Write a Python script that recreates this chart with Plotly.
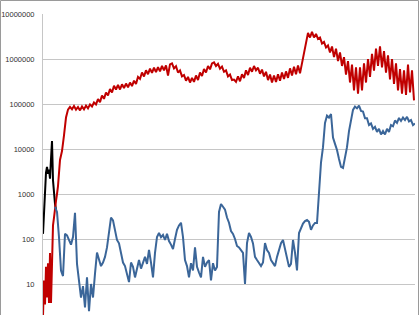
import plotly.graph_objects as go

# ---- data (x = day index, y = values on a log scale) ----
black_days = list(range(0, 14))
black_vals = [130, 350, 1200, 3000, 4000, 2800, 3500, 2200, 6000, 15000,
              2000, 1000, 600, 450]

red_early_days = list(range(0, 16))
red_early_vals = [2, 12, 3.5, 24, 5, 29, 3.8, 49, 3.8, 81, 200, 300, 514,
                  700, 1000, 1500]
red_main_days = list(range(17, 372, 2))
red_main_vals = [
    5700, 9000, 20000, 50000, 75000, 86000, 76000, 90000, 75000, 86000,
    72000, 88000, 76000, 92000, 80000, 98000,
    88000, 108000, 98000, 128000, 110000, 155000, 130000, 180000, 155000, 215000,
    180000, 255000, 210000, 265000, 210000, 275000, 225000, 285000, 235000, 300000,
    250000, 330000, 280000, 400000,
    360000, 500000, 410000, 560000, 460000, 610000, 490000, 640000, 510000, 660000,
    530000, 700000, 560000, 720000, 430000, 760000, 800000, 620000, 690000, 500000,
    560000, 410000, 440000, 330000, 400000, 300000, 380000, 310000, 430000, 340000,
    500000,
    420000, 600000, 500000, 700000, 590000, 800000, 840000, 700000, 780000, 610000,
    680000, 520000, 560000, 410000, 450000, 340000, 350000, 310000, 410000, 320000,
    460000, 380000, 560000, 440000, 640000, 520000, 700000, 560000, 640000, 470000,
    580000, 410000, 520000, 340000,
    450000, 300000, 430000, 310000, 460000, 330000, 500000, 360000, 530000, 380000,
    620000, 430000, 670000, 460000, 720000, 480000, 800000,
    1200000, 2200000, 3800000, 3000000, 4000000, 3000000, 3600000, 2800000, 3000000, 2200000,
    2400000, 1800000, 2000000, 1400000, 1900000, 1100000, 1700000, 900000, 1400000, 700000,
    1100000, 450000, 900000, 300000, 750000, 200000, 650000, 170000, 650000, 200000,
    800000, 300000, 1000000, 400000, 1300000, 550000, 1700000, 700000, 1900000, 650000,
    1500000, 500000, 1200000, 350000, 1000000, 280000, 800000, 200000, 600000, 170000,
    560000, 160000, 750000, 180000, 560000, 120000,
]

blue_days = list(range(12, 373, 2))
blue_vals = [
    520, 400, 110, 20, 15, 130, 120, 90, 75, 110,
    380, 28, 10, 5, 9, 3, 14, 2.5, 10, 5,
    17, 50, 35, 25, 30, 40, 65, 150, 300, 260,
    140, 95, 80, 50, 30, 25, 17, 11, 30, 24,
    14,
    24, 34, 22, 30, 40, 28, 57, 30, 14, 49,
    111, 136, 110, 123, 95, 130, 90, 75, 60, 100,
    160, 200, 230, 110, 34, 25, 14, 29, 20, 65,
    24, 18, 14, 40, 24, 30, 34, 12, 29, 20,
    24, 400, 600, 520, 450, 300, 230, 150, 130, 100,
    70, 65, 57, 49, 10, 81, 136, 111, 80, 40,
    34, 30, 25, 30, 81, 57, 49, 34, 30, 25,
    40, 57, 81, 95, 57, 40, 24, 28, 95, 50,
    20, 136, 170, 220, 250, 264, 240, 160, 200, 227,
    227, 1300, 5000, 11000, 38000, 55000, 50000, 60000, 18000, 13000,
    9500, 6000, 4000, 3800, 6000, 11000, 25000, 45000, 74000, 88000,
    80000, 92000, 70000, 68000, 48000, 48000, 34000, 37000, 28000, 31000,
    24000, 28000, 21000, 25000, 21000, 28000, 24000, 34000, 32000, 43000,
    38000, 49000, 42000, 50000, 44000, 52000, 41000, 44000, 34000, 37000,
]

fig = go.Figure()
fig.add_trace(go.Scatter(x=black_days, y=black_vals, mode="lines",
                         line=dict(color="#000000", width=2), hoverinfo="skip"))
fig.add_trace(go.Scatter(x=red_early_days + red_main_days,
                         y=red_early_vals + red_main_vals, mode="lines",
                         line=dict(color="#c00000", width=2), hoverinfo="skip"))
fig.add_trace(go.Scatter(x=blue_days, y=blue_vals, mode="lines",
                         line=dict(color="#3b6699", width=2), hoverinfo="skip"))

tick_vals = [10, 100, 1000, 10000, 100000, 1000000, 10000000]
tick_text = ["10", "100", "1000", "10000", "100000", "1000000", "10000000"]

fig.update_layout(
    width=420, height=315,
    margin=dict(l=43, r=5, t=14, b=0),
    paper_bgcolor="white", plot_bgcolor="white",
    showlegend=False,
    xaxis=dict(range=[0, 372], showgrid=False, zeroline=False,
               showticklabels=False, ticks="", showline=False),
    yaxis=dict(type="log", range=[0.311, 7], tickvals=tick_vals,
               ticktext=tick_text, showgrid=True, gridcolor="#c6c6c6",
               gridwidth=1, zeroline=False, showline=True,
               linecolor="#c6c6c6", linewidth=1, ticks="",
               ticklabelstandoff=6,
               tickfont=dict(family="Liberation Sans", size=7.5,
                             color="#303030")),
    shapes=[dict(type="rect", xref="paper", yref="paper",
                 x0=(0.5 - 43) / 372, x1=(418.5 - 43) / 372,
                 y0=-0.1, y1=1 + 13.5 / 301,
                 line=dict(color="#9a9a9a", width=1))],
)

fig.write_html("out.html")
